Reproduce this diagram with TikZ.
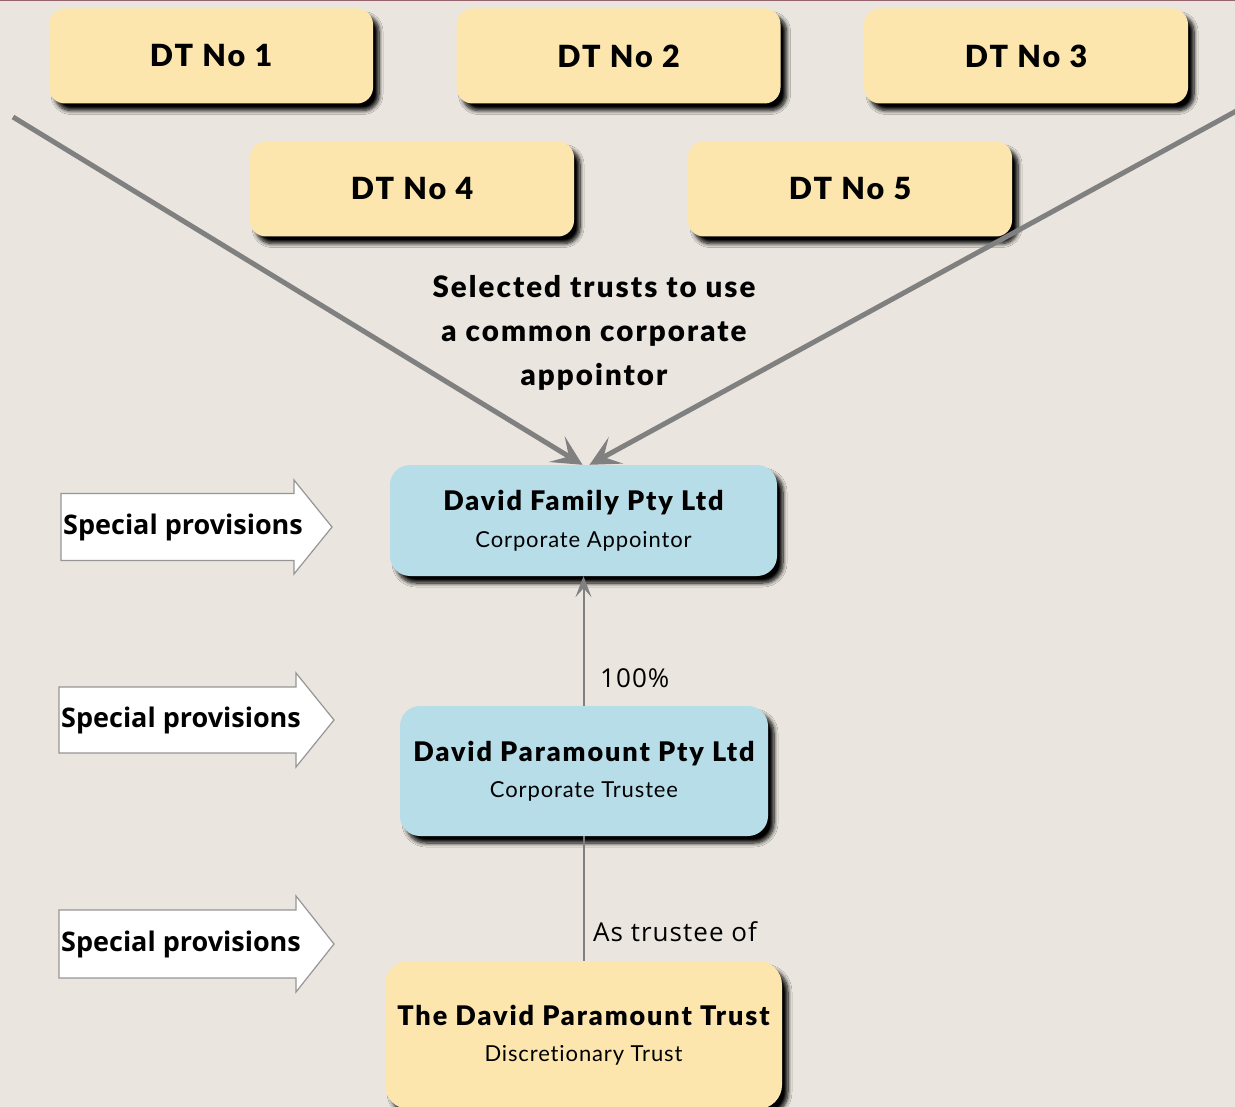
\documentclass[tikz,border=0pt]{standalone}
\usepackage{fontspec}
\setmainfont{Lato}
\newfontfamily\boxfont{Lato}[BoldFont={* Black},LetterSpace=7]
\newfontfamily\subfont{Lato}[LetterSpace=4,Ligatures=NoCommon]
\newfontfamily\plainsans{Open Sans}
\newfontfamily\widesans{Open Sans}[LetterSpace=4]
\usetikzlibrary{arrows.meta,shadows.blur}
\definecolor{paper}{RGB}{234,230,223}
\definecolor{sand}{RGB}{252,230,174}
\definecolor{sky}{RGB}{183,221,232}
\definecolor{linegray}{RGB}{128,128,128}
\definecolor{edgegray}{RGB}{150,150,150}
\definecolor{rule}{RGB}{150,100,110}
\tikzset{
  boxshadow/.style={blur shadow={shadow xshift=6pt,shadow yshift=-7pt,
      shadow blur radius=4pt,shadow blur steps=8,shadow opacity=100}},
  dtbox/.style={boxshadow,fill=sand,rounded corners=16pt,
      minimum width=324pt,minimum height=95pt,inner sep=0pt,
      font=\boxfont\fontsize{30.5}{34}\selectfont\bfseries},
  entity/.style={boxshadow,rounded corners=20pt,inner sep=0pt,align=center},
  feed/.style={draw=linegray,line width=5pt,
      -{Stealth[length=30pt,width=30pt,inset=14pt]}},
  owns/.style={draw=linegray,line width=2pt,
      -{Stealth[length=21pt,width=16pt,inset=9pt]}},
  trustee/.style={draw=linegray,line width=1.2pt},
  provshape/.style={draw=edgegray,line width=1.2pt,fill=white},
  provtext/.style={anchor=west,inner sep=0pt,
      font=\plainsans\bfseries\fontsize{27}{32}\selectfont},
  edgelabel/.style={anchor=west,inner sep=0pt,
      font=\widesans\fontsize{26}{30}\selectfont},
}
\newcommand\titleline[1]{{\boxfont\fontsize{27}{30}\selectfont\bfseries #1}}
\newcommand\subline[1]{{\subfont\fontsize{22}{26}\selectfont #1}}
% \provarrow{name}{left x}{body right x}{tip x}{centre y}{half body}{half head}
\newcommand\provarrow[7]{%
  \draw[provshape] (#2,#5-#6) -- (#3,#5-#6) -- (#3,#5-#7) -- (#4,#5)
    -- (#3,#5+#7) -- (#3,#5+#6) -- (#2,#5+#6) -- cycle;
  \node[provtext] (#1) at (#2+2,#5) {Special provisions};}
\begin{document}
\begin{tikzpicture}[x=1pt,y=-1pt]
  % page
  \fill[paper] (0,0) rectangle (1235,1107);
  \useasboundingbox (0,0) rectangle (1235,1107);
  \draw[rule,line width=1.5pt] (0,0.5) -- (1235,0.5);

  % discretionary trusts
  \node[dtbox] (dt1) at (211,56) {DT No 1};
  \node[dtbox] (dt2) at (618.5,56) {DT No 2};
  \node[dtbox] (dt3) at (1026,56) {DT No 3};
  \node[dtbox] (dt4) at (412,189) {DT No 4};
  \node[dtbox] (dt5) at (850,189) {DT No 5};

  \node[align=center,inner sep=0pt,
        font=\boxfont\fontsize{29.5}{44}\selectfont\bfseries] (sel) at (594,333)
    {Selected trusts to use\\a common corporate\\appointor};

  % entities
  \node[entity,fill=sky,minimum width=387pt,minimum height=111pt] (df)
    at (583.5,520.5)
    {\titleline{David Family Pty Ltd}\\[15pt]\subline{Corporate Appointor}};
  \node[entity,fill=sky,minimum width=368pt,minimum height=130pt] (dp)
    at (584,771)
    {\titleline{David Paramount Pty Ltd}\\[15pt]\subline{Corporate Trustee}};
  \node[entity,fill=sand,rounded corners=24pt,minimum width=397pt,
        minimum height=148pt] (tr) at (583.5,1035)
    {\titleline{The David Paramount Trust}\\[19pt]\subline{Discretionary Trust}};

  % feeds into the common appointor
  \coordinate (feedL) at (13,117);
  \coordinate (feedR) at (1240,109);
  \draw[feed] (feedL) -- ([xshift=-1pt]df.north);
  \draw[feed] (feedR) -- ([xshift=6pt]df.north);

  % ownership and trusteeship
  \draw[owns] (dp.north -| df.south) -- (df.south);
  \node[edgelabel] (pct) at (600,678) {100\%};
  \draw[trustee] (dp.south) -- (dp.south |- tr.north);
  \node[edgelabel] (ast) at (593,932) {As trustee of};

  % special provisions
  \provarrow{sp1}{61}{294}{332}{527}{33.5}{47}
  \provarrow{sp2}{59}{296}{334}{720}{33}{47}
  \provarrow{sp3}{59}{296}{334}{944}{34}{48}
\end{tikzpicture}
\end{document}
